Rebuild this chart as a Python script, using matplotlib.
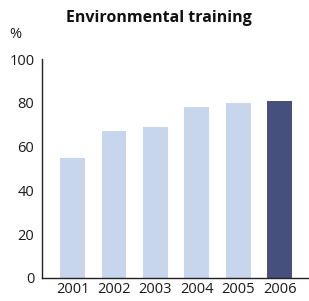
import matplotlib
matplotlib.use("Agg")
import matplotlib.pyplot as plt

plt.rcParams["font.family"] = ["Open Sans", "DejaVu Sans"]

years = ["2001", "2002", "2003", "2004", "2005", "2006"]
values = [55, 67, 69, 78, 80, 81]
light = "#c7d6ec"
dark = "#46507c"
colors = [light] * 5 + [dark]

fig = plt.figure(figsize=(3.09, 3.01), dpi=100)
ax = fig.add_axes([42 / 309, 23.3 / 301, 267 / 309, 218.5 / 301])

ax.bar(range(len(years)), values, width=0.6, color=colors)
ax.set_xlim(-0.74, 5.71)
ax.set_ylim(0, 100)
ax.set_xticks(range(len(years)))
ax.set_xticklabels(years)
ax.set_yticks([0, 20, 40, 60, 80, 100])

for s in ["top", "right"]:
    ax.spines[s].set_visible(False)
for s in ["left", "bottom"]:
    ax.spines[s].set_color("#222222")
    ax.spines[s].set_linewidth(1.0)

ax.tick_params(axis="both", length=0, labelsize=10.5, colors="#1a1a1a", pad=3)
ax.tick_params(axis="y", pad=5.5)
ax.set_yticks([100], minor=True)
ax.tick_params(axis="y", which="minor", direction="in", length=4, width=1.0, color="#222222")

fig.text(159 / 309, 1 - 17.5 / 301, "Environmental training", ha="center", va="center",
         fontsize=11.5, fontweight="bold", color="#111111")
fig.text(9 / 309, 1 - 34 / 301, "%", ha="left", va="center", fontsize=10.5, color="#1a1a1a")

fig.savefig("out.png", dpi=100)
